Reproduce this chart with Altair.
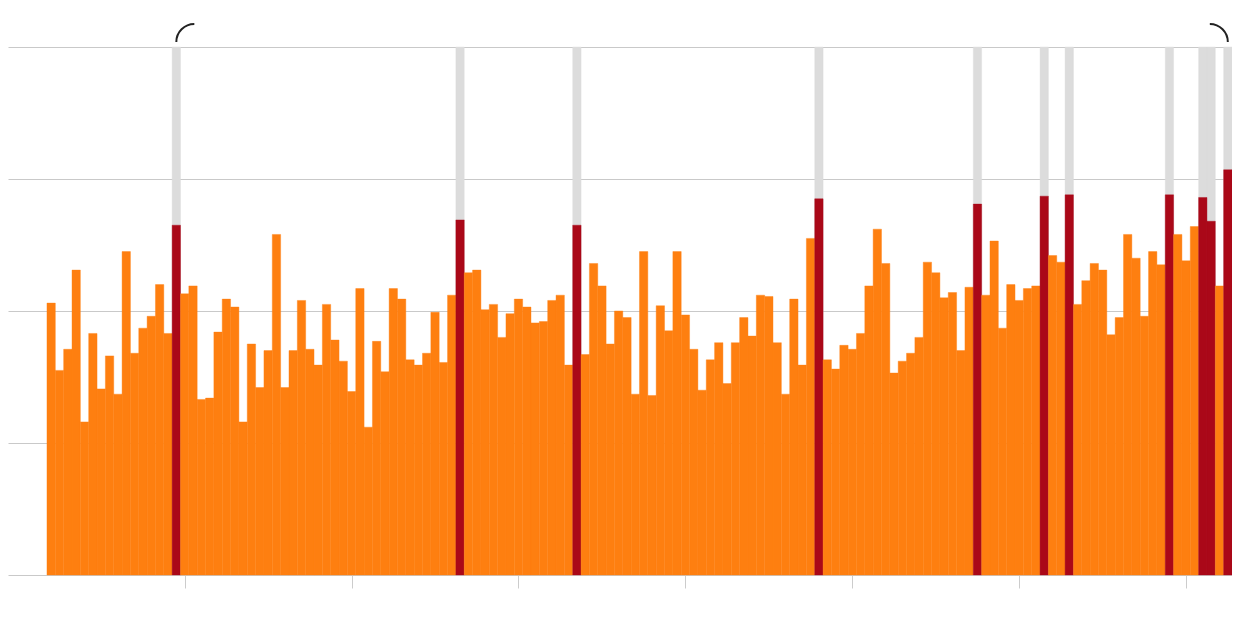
import altair as alt
import pandas as pd

# ---- data -------------------------------------------------------------
START_YEAR = 1884
values = [
    2.06, 1.55, 1.71, 2.31, 1.16, 1.83, 1.41, 1.66, 1.37, 2.45,
    1.68, 1.87, 1.96, 2.20, 1.83, 2.65, 2.13, 2.19, 1.33, 1.34,
    1.84, 2.09, 2.03, 1.16, 1.75, 1.42, 1.70, 2.58, 1.42, 1.70,
    2.08, 1.71, 1.59, 2.05, 1.78, 1.62, 1.39, 2.17, 1.12, 1.77,
    1.54, 2.17, 2.09, 1.63, 1.59, 1.68, 1.99, 1.61, 2.12, 2.69,
    2.29, 2.31, 2.01, 2.05, 1.80, 1.98, 2.09, 2.03, 1.91, 1.92,
    2.08, 2.12, 1.59, 2.65, 1.67, 2.36, 2.19, 1.75, 2.00, 1.95,
    1.37, 2.45, 1.36, 2.04, 1.85, 2.45, 1.97, 1.71, 1.40, 1.63,
    1.76, 1.45, 1.76, 1.95, 1.81, 2.12, 2.11, 1.76, 1.37, 2.09,
    1.59, 2.55, 2.85, 1.63, 1.56, 1.74, 1.71, 1.83, 2.19, 2.62,
    2.36, 1.53, 1.62, 1.68, 1.80, 2.37, 2.29, 2.10, 2.14, 1.70,
    2.18, 2.81, 2.12, 2.53, 1.87, 2.20, 2.08, 2.17, 2.19, 2.87,
    2.42, 2.37, 2.88, 2.05, 2.23, 2.36, 2.31, 1.82, 1.95, 2.58,
    2.40, 1.96, 2.45, 2.35, 2.88, 2.58, 2.38, 2.64, 2.86, 2.68,
    2.19, 3.07,
]
years = [START_YEAR + i for i in range(len(values))]
highlight_years = [1899, 1933, 1947, 1976, 1995, 2003, 2006, 2018, 2022, 2023, 2025]
tick_years = [1900, 1920, 1940, 1960, 1980, 2000, 2020]
grid_values = [0, 1, 2, 3, 4]
Y_MAX = 4

df = pd.DataFrame({
    "year": years,
    "value": values,
    "highlight": [y in highlight_years for y in years],
})
df["x0"] = df["year"] - 0.5
df["x1"] = df["year"] + 0.5
df["ceiling"] = Y_MAX

brackets = pd.DataFrame({
    "year": [highlight_years[0], highlight_years[-1]],
    "level": [Y_MAX, Y_MAX],
    "side": ["left", "right"],
})
edge = pd.DataFrame({"x": [years[-1] + 0.5], "y0": [0], "y1": [1]})

ORANGE = "#fe7f10"
RED = "#aa0818"
GRAY = "#dcdcdc"

xscale = alt.Scale(domain=[1878.83, years[-1] + 0.5], nice=False, zero=False)
yscale = alt.Scale(domain=[0, Y_MAX], nice=False, zero=True)
cscale = alt.Scale(domain=[False, True], range=[ORANGE, RED])

x_axis = alt.Axis(values=tick_years, labels=False, ticks=True, tickSize=13,
                  tickColor="#cccccc", tickWidth=1, domain=False, grid=False, title=None)
y_axis = alt.Axis(values=grid_values, labels=False, ticks=False, domain=False,
                  grid=True, gridColor="#c9c9c9", gridWidth=1, title=None)

base = alt.Chart(df)

edge_rule = alt.Chart(edge).mark_rule(color="#bbbbbb", strokeWidth=1).encode(
    x=alt.X("x:Q", scale=xscale, axis=x_axis),
    y=alt.Y("y0:Q", scale=yscale, axis=y_axis),
    y2="y1:Q",
)

background = base.transform_filter("datum.highlight").mark_rect(
    color=GRAY, stroke=GRAY, strokeWidth=0.4).encode(
    x=alt.X("x0:Q", scale=xscale, axis=x_axis),
    x2="x1:Q",
    y=alt.Y("ceiling:Q", scale=yscale, axis=y_axis),
    y2=alt.datum(0),
)

bars = base.mark_rect(strokeWidth=0.4).encode(
    x=alt.X("x0:Q", scale=xscale, axis=x_axis),
    x2="x1:Q",
    y=alt.Y("value:Q", scale=yscale, axis=y_axis),
    y2=alt.datum(0),
    fill=alt.Fill("highlight:N", scale=cscale, legend=None),
    stroke=alt.Stroke("highlight:N", scale=cscale, legend=None),
)

left_path = "M 0 -0.2 A 0.72 0.72 0 0 1 0.72 -0.92"
right_path = "M -0.72 -0.92 A 0.72 0.72 0 0 1 0 -0.2"

arcs = alt.Chart(brackets).mark_point(filled=False, stroke="#222222", strokeWidth=2,
                                      opacity=1, size=2500).encode(
    x=alt.X("year:Q", scale=xscale),
    y=alt.Y("level:Q", scale=yscale),
    shape=alt.Shape("side:N", scale=alt.Scale(domain=["left", "right"],
                                              range=[left_path, right_path]), legend=None),
)

chart = alt.layer(edge_rule, background, bars, arcs).properties(
    width=1224,
    height=528,
    padding={"left": 0, "top": 39, "right": 0, "bottom": 20},
    autosize=alt.AutoSizeParams(type="none"),
    background="white",
).configure_view(strokeWidth=0)

chart.save("out.html", embed_options={"renderer": "svg", "actions": False})
